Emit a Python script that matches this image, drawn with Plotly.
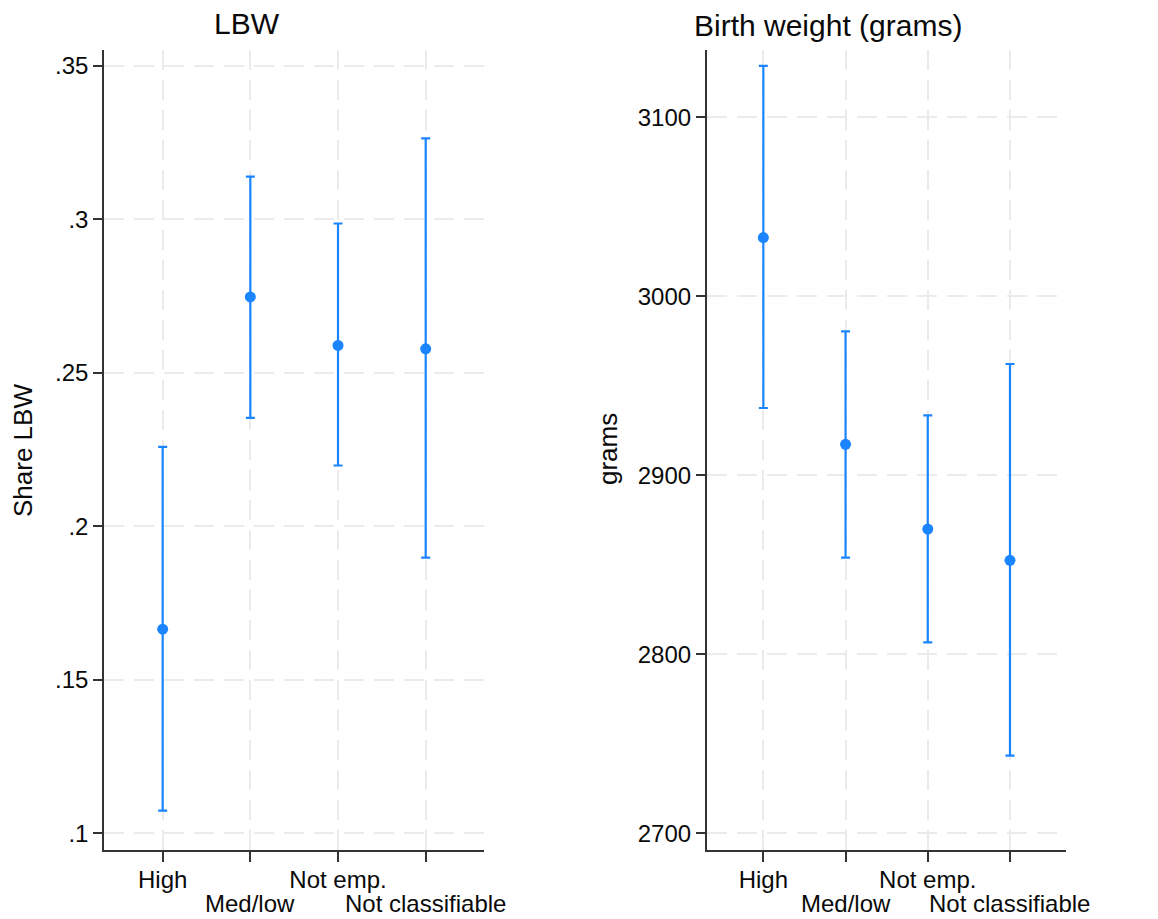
import plotly.graph_objects as go

categories = ["High", "Med/low", "Not emp.", "Not classifiable"]
cat_pos = [1, 2, 3, 4]

lbw_est = [0.1665, 0.2747, 0.2589, 0.2578]
lbw_hi = [0.2259, 0.3139, 0.2986, 0.3263]
lbw_lo = [0.1074, 0.2353, 0.2198, 0.1898]

bw_est = [3032.8, 2917.3, 2870.0, 2852.5]
bw_hi = [3128.7, 2980.4, 2933.5, 2962.2]
bw_lo = [2937.6, 2854.0, 2806.7, 2743.4]

lbw_ticks = [0.1, 0.15, 0.2, 0.25, 0.3, 0.35]
lbw_ticktext = [".1", ".15", ".2", ".25", ".3", ".35"]
bw_ticks = [2700, 2800, 2900, 3000, 3100]

COLOR = "#1a85ff"
FONT = "Liberation Sans, Arial, sans-serif"
TXT = "#0a0a0a"
W, H = 1158, 919

fig = go.Figure()


def add_panel(est, hi, lo, xa, ya):
    fig.add_trace(go.Scatter(
        x=cat_pos, y=est, mode="markers",
        marker=dict(color=COLOR, size=11),
        error_y=dict(type="data", symmetric=False,
                     array=[h - e for h, e in zip(hi, est)],
                     arrayminus=[e - l for e, l in zip(est, lo)],
                     color=COLOR, thickness=2.2, width=4.5),
        xaxis=xa, yaxis=ya, showlegend=False, hoverinfo="skip"))


add_panel(lbw_est, lbw_hi, lbw_lo, "x", "y")
add_panel(bw_est, bw_hi, bw_lo, "x2", "y2")

row1 = [c if i % 2 == 0 else "" for i, c in enumerate(categories)]

common_x = dict(tickvals=cat_pos, ticktext=row1, showline=True, linecolor="#333333",
                linewidth=1.5, ticks="outside", ticklen=10, tickwidth=1.5, tickcolor="#333333",
                showgrid=True, gridcolor="#ebebeb", gridwidth=1.5, griddash="20px,10px",
                zeroline=False, ticklabelstandoff=-3,
                tickfont=dict(size=24, color=TXT, family=FONT))
common_y = dict(showline=True, linecolor="#333333", linewidth=1.5, ticks="outside",
                ticklen=9, tickwidth=1.5, tickcolor="#333333", showgrid=True,
                gridcolor="#ebebeb", gridwidth=1.5, griddash="20px,10px", zeroline=False,
                tickfont=dict(size=24, color=TXT, family=FONT))

y_top = 1 - 50 / H
y_bot = 1 - 850 / H

fig.update_layout(
    width=W, height=H,
    margin=dict(l=0, r=0, t=0, b=0),
    paper_bgcolor="white", plot_bgcolor="white",
    font=dict(family=FONT, color=TXT),
    xaxis=dict(domain=[104 / W, 484 / W], range=[0.331, 4.665], anchor="y", **common_x),
    yaxis=dict(domain=[y_bot, y_top], range=[0.0946, 0.3551], anchor="x",
               tickvals=lbw_ticks, ticktext=lbw_ticktext, **common_y),
    xaxis2=dict(domain=[706.7 / W, 1066.3 / W], range=[0.311, 4.685], anchor="y2", **common_x),
    yaxis2=dict(domain=[y_bot, y_top], range=[2690.7, 3137.6], anchor="x2",
                tickvals=bw_ticks, **common_y),
)

annotations = []
# Staggered second-row category labels
for xa in ["x", "x2"]:
    for i, c in enumerate(categories):
        if i % 2 == 1:
            annotations.append(dict(x=cat_pos[i], y=1 - 903 / H, xref=xa, yref="paper",
                                    text=c, showarrow=False, xanchor="center", yanchor="middle",
                                    font=dict(size=24, color=TXT, family=FONT)))

# Panel titles
annotations.append(dict(x=246.7 / W, y=1 - 24 / H, xref="paper", yref="paper", text="LBW",
                        showarrow=False, xanchor="center", yanchor="middle",
                        font=dict(size=30, color=TXT, family=FONT)))
annotations.append(dict(x=828 / W, y=1 - 25 / H, xref="paper", yref="paper",
                        text="Birth weight (grams)", showarrow=False,
                        xanchor="center", yanchor="middle",
                        font=dict(size=30, color=TXT, family=FONT)))
# Axis titles
annotations.append(dict(x=23 / W, y=1 - 451 / H, xref="paper", yref="paper", text="Share LBW",
                        textangle=-90, showarrow=False, xanchor="center", yanchor="middle",
                        font=dict(size=26, color=TXT, family=FONT)))
annotations.append(dict(x=608 / W, y=1 - 449 / H, xref="paper", yref="paper", text="grams",
                        textangle=-90, showarrow=False, xanchor="center", yanchor="middle",
                        font=dict(size=26, color=TXT, family=FONT)))

fig.update_layout(annotations=annotations)

fig.write_html("out.html", config={"displayModeBar": False},
               post_script="document.body.style.margin='0';document.body.style.padding='0';")
